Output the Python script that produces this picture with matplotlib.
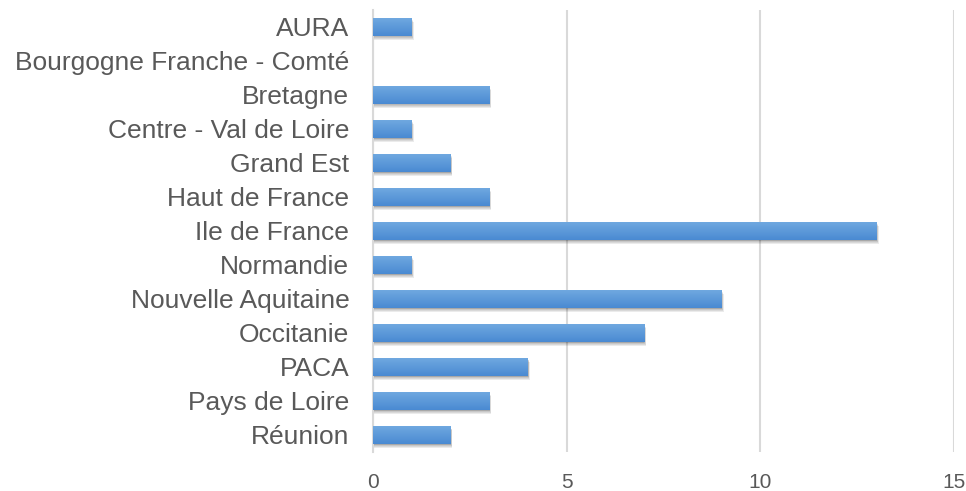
import matplotlib
matplotlib.use("Agg")
import matplotlib.pyplot as plt
import numpy as np
from matplotlib.colors import LinearSegmentedColormap

regions = ["AURA", "Bourgogne Franche - Comté", "Bretagne", "Centre - Val de Loire",
           "Grand Est", "Haut de France", "Ile de France", "Normandie",
           "Nouvelle Aquitaine", "Occitanie", "PACA", "Pays de Loire", "Réunion"]
counts = [1, 0, 3, 1, 2, 3, 13, 1, 9, 7, 4, 3, 2]
xticks = [0, 5, 10, 15]

plt.rcParams['font.family'] = ['Liberation Sans', 'DejaVu Sans']

fig = plt.figure(figsize=(9.66, 4.91), dpi=100)
ax = fig.add_axes([0.386, 0.0795, 0.6016, 0.9005])

y = np.arange(len(regions))
vals = np.array(counts, dtype=float)
h = 0.52

# soft shadow: stacked translucent bars shifted down/right
px_x = 1 / 38.8
px_y = 1 / 34.0
has = vals > 0
for k in range(1, 6):
    ax.barh(y[has] + k * 0.8 * px_y, vals[has] + k * 0.6 * px_x,
            height=h, left=-k * 0.2 * px_x, color='black', alpha=0.08,
            linewidth=0, zorder=2)

bars = ax.barh(y, vals, height=h, color='#5b9bd5', linewidth=0, zorder=3)

# vertical gradient inside each bar
grad = np.linspace(0, 1, 64).reshape(-1, 1)
cmap = LinearSegmentedColormap.from_list('g', ['#6fa8e0', '#4a8ad2'])
for b in bars:
    if b.get_width() <= 0:
        continue
    x0, y0 = b.get_x(), b.get_y()
    im = ax.imshow(grad, cmap=cmap, aspect='auto', zorder=4,
                   extent=[x0, x0 + b.get_width(), y0 + b.get_height(), y0])
    im.set_clip_path(b)

ax.set_xlim(0, 15)
ax.set_ylim(len(regions) - 0.5, -0.5)
ax.set_xticks(xticks)
ax.set_yticks(y)
ax.set_yticklabels(regions)
ax.xaxis.grid(True, color='#d9d9d9', linewidth=1.5, zorder=0)
ax.set_axisbelow(True)

for s in ['top', 'right', 'bottom']:
    ax.spines[s].set_visible(False)
ax.spines['left'].set_color('#d9d9d9')
ax.spines['left'].set_linewidth(1.5)

ax.tick_params(axis='y', length=0, pad=17, labelsize=19, labelcolor='#595959')
ax.tick_params(axis='x', length=0, pad=15, labelsize=15, labelcolor='#595959')

fig.savefig("out.png", dpi=100)
